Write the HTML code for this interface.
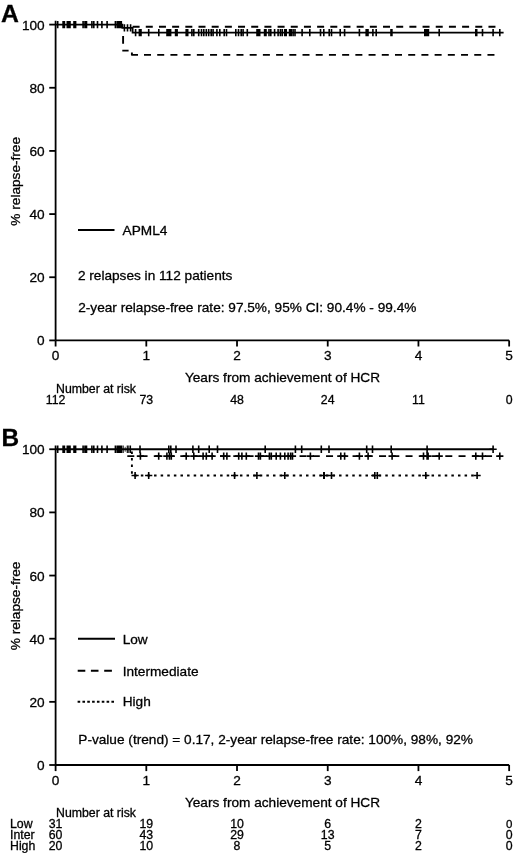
<!DOCTYPE html>
<html><head><meta charset="utf-8"><title>Relapse-free survival</title>
<style>
html,body{margin:0;padding:0;background:#fff}
svg{display:block}
svg{font-family:'Liberation Sans', sans-serif;font-size:13.65px;fill:#000}
svg text{stroke:#000;stroke-width:0.3px}
</style></head>
<body>
<svg width="520" height="858" viewBox="0 0 520 858">
<rect width="520" height="858" fill="#fff"/>
<g style="filter:blur(0.45px)"><g id="panelA"><path d="M55.6 20.8V340.4" stroke="#000" stroke-width="1.8" fill="none"/><path d="M55.6 340.4H509.15" stroke="#000" stroke-width="1.8" fill="none"/><path d="M49.25 24.60H55.6" stroke="#000" stroke-width="1.8"/><text x="44.70" y="29.60" text-anchor="end">100</text><path d="M49.25 87.76H55.6" stroke="#000" stroke-width="1.8"/><text x="44.70" y="92.76" text-anchor="end">80</text><path d="M49.25 150.92H55.6" stroke="#000" stroke-width="1.8"/><text x="44.70" y="155.92" text-anchor="end">60</text><path d="M49.25 214.08H55.6" stroke="#000" stroke-width="1.8"/><text x="44.70" y="219.08" text-anchor="end">40</text><path d="M49.25 277.24H55.6" stroke="#000" stroke-width="1.8"/><text x="44.70" y="282.24" text-anchor="end">20</text><path d="M49.25 340.40H55.6" stroke="#000" stroke-width="1.8"/><text x="44.70" y="345.40" text-anchor="end">0</text><path d="M55.60 340.4V346.5" stroke="#000" stroke-width="1.8"/><text x="55.60" y="360.0" text-anchor="middle">0</text><path d="M146.31 340.4V346.5" stroke="#000" stroke-width="1.8"/><text x="146.31" y="360.0" text-anchor="middle">1</text><path d="M237.02 340.4V346.5" stroke="#000" stroke-width="1.8"/><text x="237.02" y="360.0" text-anchor="middle">2</text><path d="M327.73 340.4V346.5" stroke="#000" stroke-width="1.8"/><text x="327.73" y="360.0" text-anchor="middle">3</text><path d="M418.44 340.4V346.5" stroke="#000" stroke-width="1.8"/><text x="418.44" y="360.0" text-anchor="middle">4</text><path d="M509.15 340.4V346.5" stroke="#000" stroke-width="1.8"/><text x="509.15" y="360.0" text-anchor="middle">5</text><text x="282.48" y="382.2" text-anchor="middle">Years from achievement of HCR</text><text transform="translate(20.4 181.3) rotate(-90)" text-anchor="middle">% relapse-free</text><path d="M55.6 24.6H122.4V27.8H132.6V32.7H503.6" stroke="#000" stroke-width="1.8" fill="none"/><path d="M57.7 21.0V28.2M63.1 21.0V28.2M64.4 21.0V28.2M67.3 21.0V28.2M68.2 21.0V28.2M69.1 21.0V28.2M70.0 21.0V28.2M74.0 21.0V28.2M75.6 21.0V28.2M83.1 21.0V28.2M85.0 21.0V28.2M86.5 21.0V28.2M91.9 21.0V28.2M93.8 21.0V28.2M97.5 21.0V28.2M101.9 21.0V28.2M107.1 21.0V28.2M115.4 21.0V28.2M117.3 21.0V28.2M118.6 21.0V28.2M119.5 21.0V28.2M120.4 21.0V28.2M121.3 21.0V28.2" stroke="#000" stroke-width="1.6" fill="none"/><path d="M124.4 24.2V31.4M127.5 24.2V31.4M130.6 24.2V31.4" stroke="#000" stroke-width="1.6" fill="none"/><path d="M135.6 29.1V36.3M139.4 29.1V36.3M141.0 29.1V36.3M148.7 29.1V36.3M158.8 29.1V36.3M167.0 29.1V36.3M167.9 29.1V36.3M168.8 29.1V36.3M169.7 29.1V36.3M170.6 29.1V36.3M175.6 29.1V36.3M177.1 29.1V36.3M186.2 29.1V36.3M187.7 29.1V36.3M191.9 29.1V36.3M193.8 29.1V36.3M198.7 29.1V36.3M201.5 29.1V36.3M203.8 29.1V36.3M206.3 29.1V36.3M208.7 29.1V36.3M211.2 29.1V36.3M213.1 29.1V36.3M216.9 29.1V36.3M219.8 29.1V36.3M224.2 29.1V36.3M226.5 29.1V36.3M235.8 29.1V36.3M238.5 29.1V36.3M241.2 29.1V36.3M243.1 29.1V36.3M247.3 29.1V36.3M257.0 29.1V36.3M257.9 29.1V36.3M258.8 29.1V36.3M259.7 29.1V36.3M264.6 29.1V36.3M266.0 29.1V36.3M269.0 29.1V36.3M270.8 29.1V36.3M274.6 29.1V36.3M278.1 29.1V36.3M280.4 29.1V36.3M282.3 29.1V36.3M284.8 29.1V36.3M286.2 29.1V36.3M289.6 29.1V36.3M291.2 29.1V36.3M293.1 29.1V36.3M295.0 29.1V36.3M302.1 29.1V36.3M309.8 29.1V36.3M320.5 29.1V36.3M323.8 29.1V36.3M329.2 29.1V36.3M331.5 29.1V36.3M340.2 29.1V36.3M344.6 29.1V36.3M359.4 29.1V36.3M366.2 29.1V36.3M367.1 29.1V36.3M368.0 29.1V36.3M372.9 29.1V36.3M376.2 29.1V36.3M391.0 29.1V36.3M391.9 29.1V36.3M424.8 29.1V36.3M425.7 29.1V36.3M426.6 29.1V36.3M427.5 29.1V36.3M428.4 29.1V36.3M439.2 29.1V36.3M475.8 29.1V36.3M476.7 29.1V36.3M482.5 29.1V36.3M493.1 29.1V36.3M499.8 29.1V36.3" stroke="#000" stroke-width="1.6" fill="none"/><path d="M132.6 26.7H497" stroke="#000" stroke-width="1.9" stroke-dasharray="7 6.18" fill="none"/><path d="M123.1 35.9V43.7M122.3 50.6H128.6M131.9 52.5V54.9M131.2 54.9H138" stroke="#000" stroke-width="1.9" fill="none"/><path d="M144.0 54.9H494.6" stroke="#000" stroke-width="1.9" stroke-dasharray="7 6.21" fill="none"/><path d="M78 230H114.5" stroke="#000" stroke-width="1.8"/><text x="122.6" y="235">APML4</text><text x="77.9" y="280.3">2 relapses in 112 patients</text><text x="78.2" y="312.3">2-year relapse-free rate: 97.5%, 95% CI: 90.4% - 99.4%</text><text x="1.0" y="21.9" font-weight="bold" font-size="24.8">A</text><g font-size="12.3"><text x="56" y="392.5">Number at risk</text><text x="55.6" y="404" text-anchor="middle">112</text><text x="146.3" y="404" text-anchor="middle">73</text><text x="237.0" y="404" text-anchor="middle">48</text><text x="327.7" y="404" text-anchor="middle">24</text><text x="418.4" y="404" text-anchor="middle">11</text><text x="509.2" y="404" text-anchor="middle">0</text></g></g>
<g id="panelB"><path d="M55.6 445.45V765.0" stroke="#000" stroke-width="1.8" fill="none"/><path d="M55.6 765.0H509.15" stroke="#000" stroke-width="1.8" fill="none"/><path d="M49.25 449.25H55.6" stroke="#000" stroke-width="1.8"/><text x="44.70" y="454.25" text-anchor="end">100</text><path d="M49.25 512.40H55.6" stroke="#000" stroke-width="1.8"/><text x="44.70" y="517.40" text-anchor="end">80</text><path d="M49.25 575.55H55.6" stroke="#000" stroke-width="1.8"/><text x="44.70" y="580.55" text-anchor="end">60</text><path d="M49.25 638.70H55.6" stroke="#000" stroke-width="1.8"/><text x="44.70" y="643.70" text-anchor="end">40</text><path d="M49.25 701.85H55.6" stroke="#000" stroke-width="1.8"/><text x="44.70" y="706.85" text-anchor="end">20</text><path d="M49.25 765.00H55.6" stroke="#000" stroke-width="1.8"/><text x="44.70" y="770.00" text-anchor="end">0</text><path d="M55.60 765.0V771.1" stroke="#000" stroke-width="1.8"/><text x="55.60" y="784.6" text-anchor="middle">0</text><path d="M146.31 765.0V771.1" stroke="#000" stroke-width="1.8"/><text x="146.31" y="784.6" text-anchor="middle">1</text><path d="M237.02 765.0V771.1" stroke="#000" stroke-width="1.8"/><text x="237.02" y="784.6" text-anchor="middle">2</text><path d="M327.73 765.0V771.1" stroke="#000" stroke-width="1.8"/><text x="327.73" y="784.6" text-anchor="middle">3</text><path d="M418.44 765.0V771.1" stroke="#000" stroke-width="1.8"/><text x="418.44" y="784.6" text-anchor="middle">4</text><path d="M509.15 765.0V771.1" stroke="#000" stroke-width="1.8"/><text x="509.15" y="784.6" text-anchor="middle">5</text><text x="282.48" y="806.8" text-anchor="middle">Years from achievement of HCR</text><text transform="translate(20.4 605.9) rotate(-90)" text-anchor="middle">% relapse-free</text><path d="M55.6 449.25H493.1" stroke="#000" stroke-width="1.8" fill="none"/><path d="M57.7 445.6V452.9M63.1 445.6V452.9M64.4 445.6V452.9M67.3 445.6V452.9M68.2 445.6V452.9M69.1 445.6V452.9M70.0 445.6V452.9M74.0 445.6V452.9M75.6 445.6V452.9M83.1 445.6V452.9M85.0 445.6V452.9M86.5 445.6V452.9M91.9 445.6V452.9M93.8 445.6V452.9M97.5 445.6V452.9M101.9 445.6V452.9M107.1 445.6V452.9M115.4 445.6V452.9M117.3 445.6V452.9M118.6 445.6V452.9M119.5 445.6V452.9M120.4 445.6V452.9M121.3 445.6V452.9" stroke="#000" stroke-width="1.6" fill="none"/><path d="M123.1 445.6V452.9M127.3 445.6V452.9M128.9 445.6V452.9M130.5 445.6V452.9" stroke="#000" stroke-width="1.15" fill="none"/><path d="M125.2 446.8V451.8" stroke="#000" stroke-width="0.7" fill="none"/><path d="M140.0 445.6V452.9M168.8 445.6V452.9M170.8 445.6V452.9M176.0 445.6V452.9M192.9 445.6V452.9M198.7 445.6V452.9M209.2 445.6V452.9M217.5 445.6V452.9M265.2 445.6V452.9M295.4 445.6V452.9M301.7 445.6V452.9M321.3 445.6V452.9M329.0 445.6V452.9M366.7 445.6V452.9M372.5 445.6V452.9M391.2 445.6V452.9M427.1 445.6V452.9" stroke="#000" stroke-width="1.6" fill="none"/><path d="M493.1 445.6V452.9M489.5 449.2H496.7" stroke="#000" stroke-width="1.6" fill="none"/><path d="M127.3 456.1H499.8" stroke="#000" stroke-width="1.9" stroke-dasharray="7 6.25" fill="none"/><path d="M140.4 452.5V459.7M136.8 456.1H144.0M158.7 452.5V459.7M155.1 456.1H162.3M166.9 452.5V459.7M163.3 456.1H170.5M169.4 452.5V459.7M165.8 456.1H173.0M171.3 452.5V459.7M167.7 456.1H174.9M186.2 452.5V459.7M182.6 456.1H189.8M193.8 452.5V459.7M190.2 456.1H197.4M203.1 452.5V459.7M199.5 456.1H206.7M206.3 452.5V459.7M202.7 456.1H209.9M212.1 452.5V459.7M208.5 456.1H215.7M223.7 452.5V459.7M220.1 456.1H227.3M226.9 452.5V459.7M223.3 456.1H230.5M238.7 452.5V459.7M235.1 456.1H242.3M241.9 452.5V459.7M238.3 456.1H245.5M246.3 452.5V459.7M242.7 456.1H249.9M258.5 452.5V459.7M254.9 456.1H262.1M260.4 452.5V459.7M256.8 456.1H264.0M269.4 452.5V459.7M265.8 456.1H273.0M271.3 452.5V459.7M267.7 456.1H274.9M276.2 452.5V459.7M272.6 456.1H279.8M280.4 452.5V459.7M276.8 456.1H284.0M284.8 452.5V459.7M281.2 456.1H288.4M288.1 452.5V459.7M284.5 456.1H291.7M290.6 452.5V459.7M287.0 456.1H294.2M292.5 452.5V459.7M288.9 456.1H296.1M310.4 452.5V459.7M306.8 456.1H314.0M340.8 452.5V459.7M337.2 456.1H344.4M344.6 452.5V459.7M341.0 456.1H348.2M359.4 452.5V459.7M355.8 456.1H363.0M368.1 452.5V459.7M364.5 456.1H371.7M392.1 452.5V459.7M388.5 456.1H395.7M423.5 452.5V459.7M419.9 456.1H427.1M427.1 452.5V459.7M423.5 456.1H430.7M428.1 452.5V459.7M424.5 456.1H431.7M439.2 452.5V459.7M435.6 456.1H442.8M475.8 452.5V459.7M472.2 456.1H479.4M482.5 452.5V459.7M478.9 456.1H486.1M499.8 452.5V459.7M496.2 456.1H503.4" stroke="#000" stroke-width="1.6" fill="none"/><path d="M131.9 449.25V475.5H477.1" stroke="#000" stroke-width="1.9" stroke-dasharray="2.5 4.107" stroke-dashoffset="4.457" fill="none"/><path d="M135.1 471.9V479.1M131.5 475.5H138.7M148.7 471.9V479.1M145.1 475.5H152.3M234.6 471.9V479.1M231.0 475.5H238.2M256.9 471.9V479.1M253.3 475.5H260.5M284.8 471.9V479.1M281.2 475.5H288.4M324.2 471.9V479.1M320.6 475.5H327.8M323.8 471.9V479.1M320.2 475.5H327.4M331.5 471.9V479.1M327.9 475.5H335.1M374.8 471.9V479.1M371.2 475.5H378.4M377.3 471.9V479.1M373.7 475.5H380.9M425.8 471.9V479.1M422.2 475.5H429.4M477.1 471.9V479.1M473.5 475.5H480.7" stroke="#000" stroke-width="1.6" fill="none"/><path d="M78 638.75H115" stroke="#000" stroke-width="1.8"/><path d="M77.7 670.75H85.3M90.9 670.75H98.5M104.2 670.75H111.9" stroke="#000" stroke-width="1.9"/><path d="M77.6 701.75H115" stroke="#000" stroke-width="1.9" stroke-dasharray="2.6 2.23"/><text x="122.7" y="643.75">Low</text><text x="122.7" y="675.5">Intermediate</text><text x="122.7" y="705.9">High</text><text x="78.3" y="744.2">P-value (trend) = 0.17, 2-year relapse-free rate: 100%, 98%, 92%</text><text x="1.6" y="445.8" font-weight="bold" font-size="24.4">B</text><g font-size="12.3"><text x="56" y="817.4">Number at risk</text><text x="10" y="828.0">Low</text><text x="55.6" y="828.0" text-anchor="middle">31</text><text x="146.3" y="828.0" text-anchor="middle">19</text><text x="237.0" y="828.0" text-anchor="middle">10</text><text x="327.7" y="828.0" text-anchor="middle">6</text><text x="418.4" y="828.0" text-anchor="middle">2</text><text x="509.2" y="828.0" text-anchor="middle" font-size="11.5">0</text><text x="10" y="838.9">Inter</text><text x="55.6" y="838.9" text-anchor="middle">60</text><text x="146.3" y="838.9" text-anchor="middle">43</text><text x="237.0" y="838.9" text-anchor="middle">29</text><text x="327.7" y="838.9" text-anchor="middle">13</text><text x="418.4" y="838.9" text-anchor="middle">7</text><text x="509.2" y="838.9" text-anchor="middle">0</text><text x="10" y="849.6">High</text><text x="55.6" y="849.6" text-anchor="middle">20</text><text x="146.3" y="849.6" text-anchor="middle">10</text><text x="237.0" y="849.6" text-anchor="middle">8</text><text x="327.7" y="849.6" text-anchor="middle">5</text><text x="418.4" y="849.6" text-anchor="middle">2</text><text x="509.2" y="849.6" text-anchor="middle">0</text></g></g></g>
</svg>
</body></html>
